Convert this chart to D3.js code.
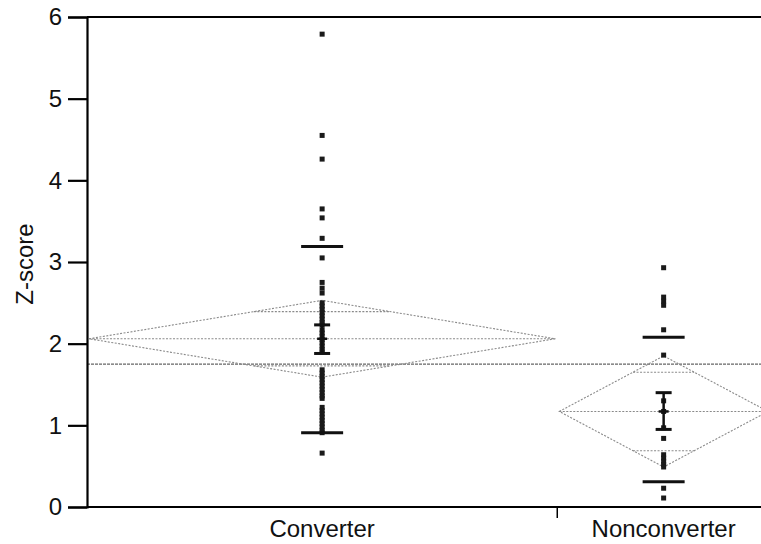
<!DOCTYPE html>
<html>
<head>
<meta charset="utf-8">
<script src="https://cdn.jsdelivr.net/npm/d3@7"></script>
<style>
  html, body { margin: 0; padding: 0; background: #fff; }
  svg { display: block; font-family: "Liberation Sans", Arial, sans-serif; }
</style>
</head>
<body>
<svg id="chart" width="761" height="544"></svg>
<script>
// ---- data ----
const categories = ["Converter", "Nonconverter"];
const groupWeights = [42, 19];           // relative group widths (sample sizes)
const yTicks = [0, 1, 2, 3, 4, 5, 6];

const converterValues = [5.79, 4.55, 4.26, 3.65, 3.54, 3.29, 3.05, 2.75, 2.68, 2.62,
  2.50, 2.46, 2.42, 2.38, 2.34, 2.30, 2.26, 2.23, 2.17, 2.13, 2.09, 2.05, 2.01, 1.97, 1.93, 1.90,
  1.68, 1.64, 1.60, 1.56, 1.52, 1.48, 1.44, 1.40, 1.36, 1.33,
  1.22, 1.18, 1.14, 1.10, 1.06, 1.02, 0.98, 0.94, 0.91, 0.66];
const nonconverterValues = [2.93, 2.57, 2.52, 2.47, 2.17, 1.86, 1.30, 1.17, 0.97, 0.84,
  0.64, 0.60, 0.56, 0.52, 0.49, 0.23, 0.11];

const groupMeans = [2.06, 1.17];
const ciHigh = [2.53, 1.85];   // diamond top
const ciLow = [1.59, 0.49];    // diamond bottom
const seHigh = [2.23, 1.40];   // error bar top
const seLow = [1.88, 0.95];    // error bar bottom
const sdHigh = [3.19, 2.08];
const sdLow = [0.91, 0.31];
const grandMean = 1.75;

// ---- layout ----
const W = 761, H = 544;
const padLeft = 87, padTop = 17, axisBottom = 507, rightEnd = 770;
const svg = d3.select("#chart");

const total = d3.sum(groupWeights);
const x = d3.scaleLinear().domain([0, total]).range([padLeft, rightEnd]);
const y = d3.scaleLinear().domain([0, 6]).range([axisBottom, padTop]);

const starts = groupWeights.map((w, i) => d3.sum(groupWeights.slice(0, i)));
const groups = categories.map((c, i) => ({
  name: c,
  x0: x(starts[i]),
  x1: x(starts[i] + groupWeights[i]),
  cx: x(starts[i] + groupWeights[i] / 2),
  values: i === 0 ? converterValues : nonconverterValues,
  mean: groupMeans[i], ciH: ciHigh[i], ciL: ciLow[i],
  seH: seHigh[i], seL: seLow[i], sdH: sdHigh[i], sdL: sdLow[i]
}));

svg.append("clipPath").attr("id", "plotclip")
  .append("rect").attr("x", padLeft).attr("y", padTop).attr("width", W - padLeft).attr("height", axisBottom - padTop);
const plot = svg.append("g").attr("clip-path", "url(#plotclip)");

// grand mean line
plot.append("line")
  .attr("x1", padLeft).attr("x2", W).attr("y1", y(grandMean)).attr("y2", y(grandMean))
  .attr("stroke", "#666").attr("stroke-width", 1.2).attr("stroke-dasharray", "3,1");

// diamonds
const diamondStroke = "#8a8a8a";
groups.forEach(g => {
  const xl = g.x0 + 2, xr = g.x1 - 2, ym = y(g.mean);
  const pts = [[xl, ym], [g.cx, y(g.ciH)], [xr, ym], [g.cx, y(g.ciL)]];
  plot.append("path")
    .attr("d", d3.line()(pts) + "Z")
    .attr("fill", "none").attr("stroke", diamondStroke).attr("stroke-width", 1.1)
    .attr("stroke-dasharray", "2,1.5");
  plot.append("line").attr("x1", xl).attr("x2", xr).attr("y1", ym).attr("y2", ym)
    .attr("stroke", diamondStroke).attr("stroke-width", 1.1).attr("stroke-dasharray", "2,1.5");
  const half = (g.ciH - g.mean) / Math.SQRT2;
  const halfW = (xr - xl) / 2 * (1 - 1 / Math.SQRT2);
  [g.mean + half, g.mean - half].forEach(v => {
    plot.append("line").attr("x1", g.cx - halfW).attr("x2", g.cx + halfW)
      .attr("y1", y(v)).attr("y2", y(v))
      .attr("stroke", diamondStroke).attr("stroke-width", 1.1).attr("stroke-dasharray", "2,1.5");
  });
});

// points
groups.forEach(g => {
  plot.append("g").selectAll("rect").data(g.values).join("rect")
    .attr("x", g.cx - 2.5).attr("y", d => y(d) - 2.5)
    .attr("width", 5).attr("height", 5)
    .attr("fill", "#1a1a1a");
});

// SD lines and error bars
groups.forEach(g => {
  [g.sdH, g.sdL].forEach(v => {
    plot.append("line").attr("x1", g.cx - 21).attr("x2", g.cx + 21)
      .attr("y1", y(v)).attr("y2", y(v)).attr("stroke", "#111").attr("stroke-width", 3);
  });
  plot.append("line").attr("x1", g.cx).attr("x2", g.cx)
    .attr("y1", y(g.seH)).attr("y2", y(g.seL)).attr("stroke", "#111").attr("stroke-width", 2.5);
  [g.seH, g.seL].forEach(v => {
    plot.append("line").attr("x1", g.cx - 8).attr("x2", g.cx + 8)
      .attr("y1", y(v)).attr("y2", y(v)).attr("stroke", "#111").attr("stroke-width", 3);
  });
  plot.append("line").attr("x1", g.cx - 5).attr("x2", g.cx + 5)
    .attr("y1", y(g.mean)).attr("y2", y(g.mean)).attr("stroke", "#111").attr("stroke-width", 2.5);
});

// frame lines
svg.append("line").attr("x1", padLeft).attr("x2", W).attr("y1", padTop).attr("y2", padTop)
  .attr("stroke", "#000").attr("stroke-width", 2.2);
svg.append("line").attr("x1", padLeft).attr("x2", W).attr("y1", axisBottom).attr("y2", axisBottom)
  .attr("stroke", "#000").attr("stroke-width", 2.2);

// y axis
const yAxis = d3.axisLeft(y).tickValues(yTicks).tickSize(19).tickPadding(6).tickFormat(d3.format("d"));
const ya = svg.append("g").attr("transform", `translate(${padLeft},0)`).call(yAxis);
ya.select(".domain").attr("stroke", "#000").attr("stroke-width", 2.2);
ya.selectAll(".tick line").attr("stroke", "#000").attr("stroke-width", 2.2);
ya.selectAll(".tick text").attr("font-size", 24).attr("fill", "#111")
  .attr("font-family", "'Liberation Sans', Arial, sans-serif");

// x axis (category labels + divider tick)
svg.append("line").attr("x1", groups[0].x1).attr("x2", groups[0].x1)
  .attr("y1", axisBottom).attr("y2", axisBottom + 11).attr("stroke", "#000").attr("stroke-width", 1.5);
svg.append("g").selectAll("text").data(groups).join("text")
  .attr("x", d => d.cx).attr("y", 537)
  .attr("text-anchor", "middle").attr("font-size", 24).attr("fill", "#111")
  .text(d => d.name);

// y label
svg.append("text")
  .attr("transform", `translate(33,264) rotate(-90)`)
  .attr("text-anchor", "middle").attr("font-size", 24).attr("fill", "#111")
  .text("Z-score");
</script>
</body>
</html>
